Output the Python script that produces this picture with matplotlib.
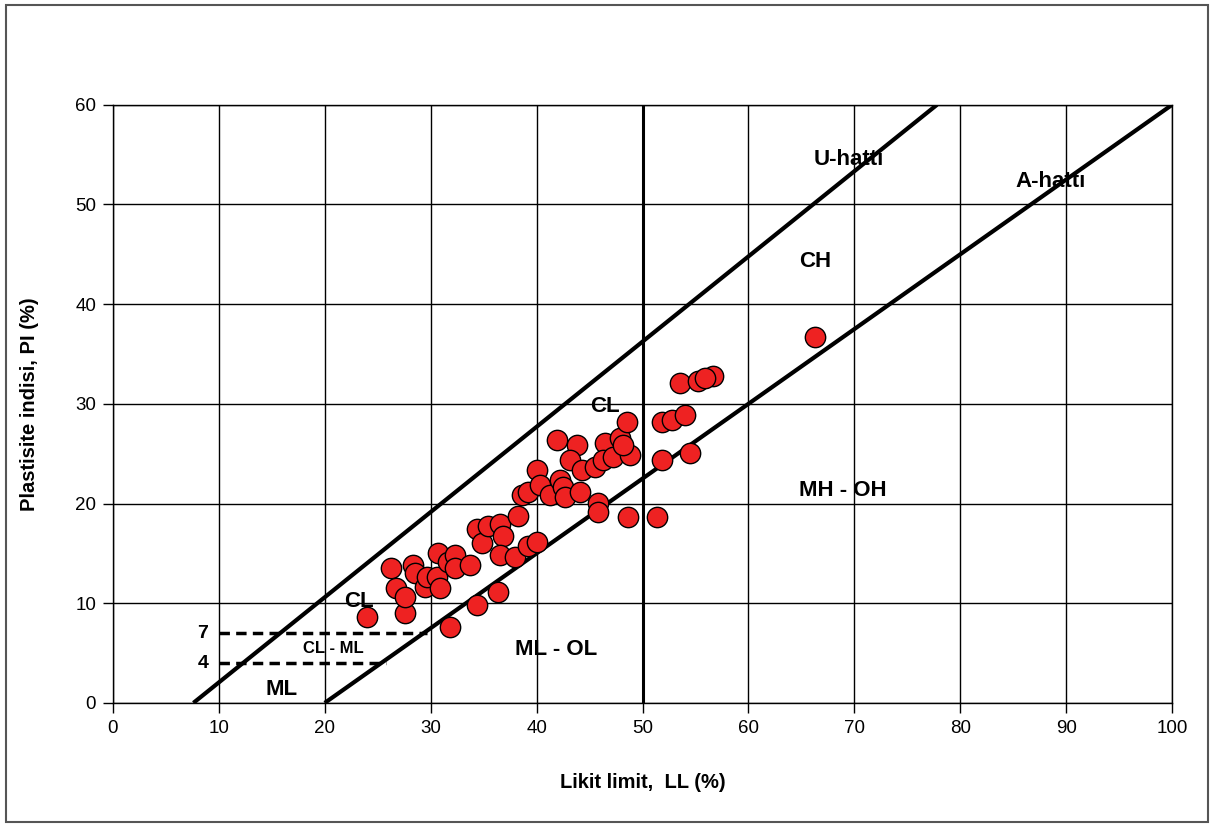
import numpy as np
import matplotlib
matplotlib.use("Agg")
from matplotlib import pyplot as plt
from matplotlib.patches import Rectangle

plt.rcParams['font.family'] = ['Liberation Sans', 'DejaVu Sans']

# sample points (LL, PI)
ll = [24.0, 27.6, 26.3, 26.7, 27.6, 28.3, 28.5, 29.5, 29.7, 30.6, 30.9, 30.7,
      31.6, 32.3, 32.3, 33.7, 34.4, 34.8, 35.4, 36.5, 36.8, 36.5, 38.0, 39.2,
      40.0, 38.2, 38.6, 39.2, 40.0, 40.3, 41.3, 42.2, 42.5, 42.7, 44.1, 45.8,
      45.8, 41.9, 43.8, 43.2, 44.3, 45.5, 46.5, 46.3, 47.2, 47.9, 48.5, 48.8,
      48.6, 51.4, 34.4, 36.4, 31.8, 51.8, 52.8, 54.0, 51.8, 54.5, 66.3, 53.5,
      55.2, 56.7, 55.9, 48.2]
pi = [8.6, 9.0, 13.5, 11.5, 10.6, 13.8, 13.0, 11.6, 12.6, 12.6, 11.5, 15.0,
      14.1, 14.8, 13.5, 13.8, 17.4, 16.0, 17.7, 17.9, 16.7, 14.8, 14.6, 15.7,
      16.1, 18.7, 20.9, 21.2, 23.4, 21.9, 20.9, 22.4, 21.7, 20.7, 21.2, 20.1,
      19.2, 26.4, 25.9, 24.4, 23.4, 23.7, 26.1, 24.4, 24.7, 26.6, 28.2, 24.9,
      18.6, 18.6, 9.8, 11.1, 7.6, 28.2, 28.4, 28.9, 24.4, 25.1, 36.7, 32.1,
      32.3, 32.8, 32.6, 25.9]

u_ll = [7.6, 77.8]
u_pi = [0, 60]
a_ll = [20, 100]
a_pi = [0, 60]

fig = plt.figure(figsize=(12.14, 8.25), dpi=100)
fig.patches.append(Rectangle((0.005, 0.004), 0.99, 0.99, transform=fig.transFigure,
                             fill=False, edgecolor='#555555', linewidth=1.5))
ax = fig.add_axes([0.093, 0.148, 0.8725, 0.725])

ax.set_xlim(0, 100)
ax.set_ylim(0, 60)
ax.set_xticks(np.arange(0, 101, 10))
ax.set_yticks(np.arange(0, 61, 10))
ax.grid(True, color='black', linewidth=1.0)
ax.set_axisbelow(True)
ax.tick_params(direction='out', length=7, width=1, labelsize=13.5, colors='black', pad=5)
for s in ax.spines.values():
    s.set_linewidth(1.0)

ax.axvline(50, color='black', linewidth=2.2, zorder=2)
ax.plot(u_ll, u_pi, color='black', linewidth=3, zorder=2, solid_capstyle='butt')
ax.plot(a_ll, a_pi, color='black', linewidth=3, zorder=2, solid_capstyle='butt')
ax.plot([10, 29.7], [7, 7], color='black', linewidth=2.5, linestyle=(0, (3, 1.8)), zorder=2)
ax.plot([10, 25.8], [4, 4], color='black', linewidth=2.5, linestyle=(0, (3, 1.8)), zorder=2)

ax.scatter(ll, pi, s=215, c='#ee2222', edgecolors='black', linewidths=1.0, zorder=3)

ax.text(9.0, 7, '7', fontsize=14, ha='right', va='center', fontweight='bold')
ax.text(9.0, 4, '4', fontsize=14, ha='right', va='center', fontweight='bold')
bold = dict(fontweight='bold', ha='center', va='center')
ax.text(69.5, 54.5, 'U-hattı', fontsize=16, **bold)
ax.text(88.5, 52.3, 'A-hattı', fontsize=16, **bold)
ax.text(66.3, 44.3, 'CH', fontsize=16, **bold)
ax.text(46.5, 29.7, 'CL', fontsize=16, **bold)
ax.text(23.2, 10.2, 'CL', fontsize=16, **bold)
ax.text(20.8, 5.5, 'CL - ML', fontsize=12, **bold)
ax.text(15.9, 1.3, 'ML', fontsize=16, **bold)
ax.text(41.8, 5.4, 'ML - OL', fontsize=16, **bold)
ax.text(68.9, 21.3, 'MH - OH', fontsize=16, **bold)

ax.set_xlabel('Likit limit,  LL (%)', fontsize=14.5, fontweight='bold', labelpad=26)
ax.set_ylabel('Plastisite indisi, PI (%)', fontsize=14.5, fontweight='bold', labelpad=26)

fig.savefig('out.png', dpi=100)
